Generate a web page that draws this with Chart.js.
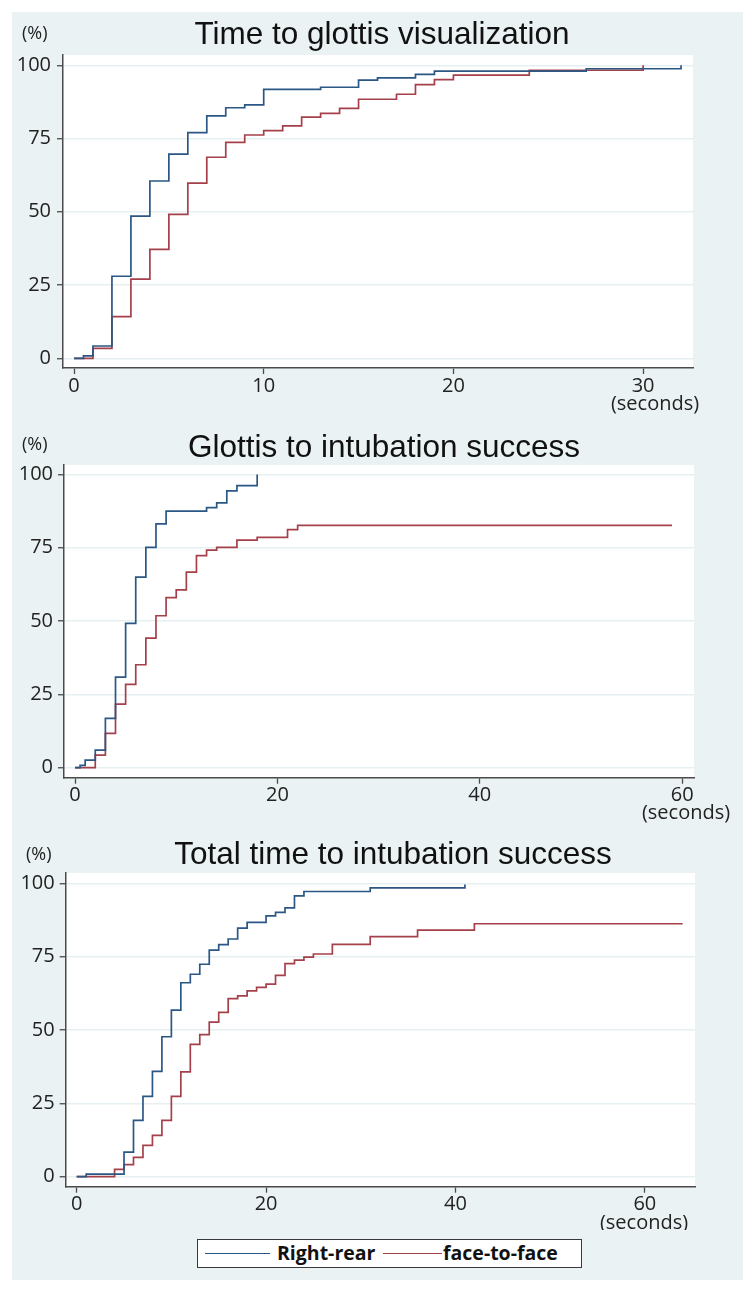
<!DOCTYPE html>
<html>
<head>
<meta charset="utf-8">
<script src="https://cdn.jsdelivr.net/npm/chart.js@4.4.1/dist/chart.umd.min.js"></script>
<style>
  body { margin: 0; background: #fff; width: 755px; height: 1293px; position: relative; overflow: hidden; }
  #frame { position: absolute; left: 12px; top: 12px; width: 731px; height: 1268px; background: #eaf2f3; }
  canvas { position: absolute; left: 0; }
  #legend { position: absolute; left: 197px; top: 1239px; width: 385px; height: 29px; box-sizing: border-box;
            border: 1.5px solid #3a3a3a; background: #fff; font: 700 19.5px "Open Sans", sans-serif; color: #111; }
  #legend .line { position: absolute; top: 13px; height: 1.4px; }
  #legend .label { position: absolute; top: 0; line-height: 26px; white-space: nowrap; }
</style>
</head>
<body>
<div id="frame"></div>
<canvas id="glottis-chart" width="755" height="420" style="top:0"></canvas>
<canvas id="intubation-chart" width="755" height="410" style="top:420px"></canvas>
<canvas id="total-chart" width="755" height="400" style="top:830px"></canvas>
<div id="legend">
  <div class="line" id="rear-line" style="left:7px;width:65px"></div>
  <div class="label" style="left:79px">Right-rear</div>
  <div class="line" id="face-line" style="left:185px;width:59px"></div>
  <div class="label" style="left:245px">face-to-face</div>
</div>
<script>
// Kaplan-Meier style cumulative success curves (%)

// Time to glottis visualization
const visTimeRear = [0, 0.5, 1, 2, 3, 4, 5, 6, 7, 8, 9, 10, 13, 15, 16, 18, 19, 27, 32];
const visPctRear = [0, 0.8, 4.2, 28, 48.5, 60.5, 69.7, 77, 82.7, 85.5, 86.5, 91.8, 92.5, 94.9, 95.7, 96.9, 98.0, 98.8, 100];
const visTimeFace = [0, 1, 2, 3, 4, 5, 6, 7, 8, 9, 10, 11, 12, 13, 14, 15, 17, 18, 19, 20, 24, 30];
const visPctFace = [0, 3.4, 14.2, 27, 37.2, 49.1, 59.8, 68.6, 73.7, 76.2, 77.7, 79.3, 82.3, 83.6, 85.3, 88.4, 90.1, 93.4, 95.1, 96.6, 98.3, 100];

// Glottis to intubation success
const tubeTimeRear = [0, 0.5, 1, 2, 3, 4, 5, 6, 7, 8, 9, 13, 14, 15, 16, 18];
const tubePctRear = [0, 0.8, 2.6, 6.0, 16.8, 30.9, 49.2, 65, 75.1, 83.1, 87.5, 88.7, 90.3, 94.4, 96.2, 100];
const tubeTimeFace = [0, 2, 3, 4, 5, 6, 7, 8, 9, 10, 11, 12, 13, 14, 16, 18, 21, 22, 59];
const tubePctFace = [0, 4.3, 11.7, 21.7, 28.4, 35.1, 44.2, 51.8, 58, 60.6, 66.7, 72.3, 74.2, 75.1, 77.6, 78.5, 81.2, 82.6, 82.6];

// Total time to intubation success
const totalTimeRear = [0, 1, 5, 6, 7, 8, 9, 10, 11, 12, 13, 14, 15, 16, 17, 18, 20, 21, 22, 23, 24, 31, 41];
const totalPctRear = [0, 0.9, 8.4, 19.2, 27.4, 35.9, 47.7, 56.8, 66.1, 69, 72.4, 77.2, 79.1, 81, 84.7, 86.7, 88.9, 90.1, 91.6, 95.7, 97.2, 98.4, 99.6];
const totalTimeFace = [0, 4, 5, 6, 7, 8, 9, 10, 11, 12, 13, 14, 15, 16, 17, 18, 19, 20, 21, 22, 23, 24, 25, 27, 31, 36, 42, 64];
const totalPctFace = [0, 2.5, 4.1, 6.6, 10.7, 14.1, 19.2, 27.4, 35.7, 45.1, 48.4, 52.7, 56, 60.7, 61.6, 63.3, 64.5, 65.6, 68.6, 72.6, 73.8, 74.8, 75.9, 79.2, 81.8, 84.0, 86.2, 86.2];

const groupLabels = ['Right-rear', 'face-to-face'];
const pctTicks = [0, 25, 50, 75, 100];
const REAR_COLOR = '#2b5785';
const FACE_COLOR = '#a5404a';
const AXIS_COLOR = '#4a4a4a';
const GRID_COLOR = '#e6eff1';
const TICK_FONT = { family: '"Open Sans", sans-serif', size: 20 };

document.getElementById('rear-line').style.background = REAR_COLOR;
document.getElementById('face-line').style.background = FACE_COLOR;

/**
 * Zip time and percent arrays into chart points
 */
function toPoints(times, pcts) {
  return times.map((t, i) => ({ x: t, y: pcts[i] }));
}

// white plot region + panel texts (title, (%), (seconds))
const panelText = {
  id: 'panelText',
  beforeDraw(chart) {
    const { ctx, chartArea: a } = chart;
    ctx.save();
    ctx.fillStyle = '#fff';
    ctx.fillRect(a.left, a.top, a.right - a.left, a.bottom - a.top);
    ctx.restore();
  },
  afterDraw(chart, args, o) {
    const ctx = chart.ctx;
    ctx.save();
    ctx.fillStyle = '#111';
    ctx.textBaseline = 'alphabetic';
    ctx.textAlign = 'center';
    ctx.font = '31.5px "Liberation Sans", Arial, sans-serif';
    ctx.fillText(o.title, o.titleX, o.titleY);
    ctx.textAlign = 'left';
    ctx.font = '18px "Open Sans", sans-serif';
    ctx.fillStyle = '#222';
    ctx.fillText('(%)', o.unitX, o.unitY);
    ctx.textAlign = 'center';
    ctx.font = '20px "Open Sans", sans-serif';
    ctx.fillText('(seconds)', o.secondsX, o.secondsY);
    ctx.restore();
  },
};

function buildChart(id, p) {
  return new Chart(document.getElementById(id), {
    type: 'line',
    data: {
      datasets: [
        {
          label: groupLabels[0],
          data: toPoints(p.rearTime, p.rearPct),
          borderColor: REAR_COLOR,
          borderWidth: 1.7,
          stepped: true,
          pointRadius: 0,
          fill: false,
        },
        {
          label: groupLabels[1],
          data: toPoints(p.faceTime, p.facePct),
          borderColor: FACE_COLOR,
          borderWidth: 1.7,
          stepped: true,
          pointRadius: 0,
          fill: false,
        },
      ],
    },
    options: {
      responsive: false,
      animation: false,
      events: [],
      layout: { padding: p.padding },
      plugins: {
        legend: { display: false },
        tooltip: { enabled: false },
        panelText: p.text,
      },
      scales: {
        x: {
          type: 'linear',
          min: p.xMin,
          max: p.xMax,
          afterBuildTicks: (s) => { s.ticks = p.xTicks.map((v) => ({ value: v })); },
          afterFit: (s) => { s.height = 40; },
          grid: { display: true, drawOnChartArea: false, tickLength: 6, tickColor: AXIS_COLOR, tickWidth: 1.3 },
          border: { display: true, color: AXIS_COLOR, width: 1.5 },
          ticks: { font: TICK_FONT, color: '#222', padding: 0, maxRotation: 0, autoSkip: false },
        },
        y: {
          type: 'linear',
          min: p.yMin,
          max: p.yMax,
          afterBuildTicks: (s) => { s.ticks = pctTicks.map((v) => ({ value: v })); },
          afterFit: (s) => { s.width = p.yAxisWidth; },
          grid: { color: GRID_COLOR, lineWidth: 1.5, tickLength: 6, tickColor: AXIS_COLOR, tickWidth: 1.3 },
          border: { display: true, color: AXIS_COLOR, width: 1.5 },
          ticks: { font: TICK_FONT, color: '#222', padding: p.yPad, autoSkip: false },
        },
      },
    },
    plugins: [panelText],
  });
}

// Render time to glottis visualization
buildChart('glottis-chart', {
  rearTime: visTimeRear, rearPct: visPctRear, faceTime: visTimeFace, facePct: visPctFace,
  xMin: -0.58, xMax: 32.63, yMin: -3.31, yMax: 103.5, xTicks: [0, 10, 20, 30],
  padding: { left: 0, top: 55, right: 62, bottom: 12 }, yAxisWidth: 63, yPad: 6,
  text: { title: 'Time to glottis visualization', titleX: 382, titleY: 44, unitX: 22, unitY: 39, secondsX: 655, secondsY: 410 },
});

// Render glottis to intubation success
buildChart('intubation-chart', {
  rearTime: tubeTimeRear, rearPct: tubePctRear, faceTime: tubeTimeFace, facePct: tubePctFace,
  xMin: -1.09, xMax: 61.17, yMin: -3.41, yMax: 103.2, xTicks: [0, 20, 40, 60],
  padding: { left: 0, top: 45, right: 61, bottom: 12.3 }, yAxisWidth: 64, yPad: 5,
  text: { title: 'Glottis to intubation success', titleX: 384, titleY: 37, unitX: 22, unitY: 30, secondsX: 686, secondsY: 399 },
});

// Render total time to intubation success
buildChart('total-chart', {
  rearTime: totalTimeRear, rearPct: totalPctRear, faceTime: totalTimeFace, facePct: totalPctFace,
  xMin: -1.16, xMax: 65.3, yMin: -3.41, yMax: 103.5, xTicks: [0, 20, 40, 60],
  padding: { left: 0, top: 43, right: 60, bottom: 3.3 }, yAxisWidth: 65.7, yPad: 5,
  text: { title: 'Total time to intubation success', titleX: 393, titleY: 34, unitX: 26, unitY: 30, secondsX: 644, secondsY: 399 },
});
</script>
</body>
</html>
